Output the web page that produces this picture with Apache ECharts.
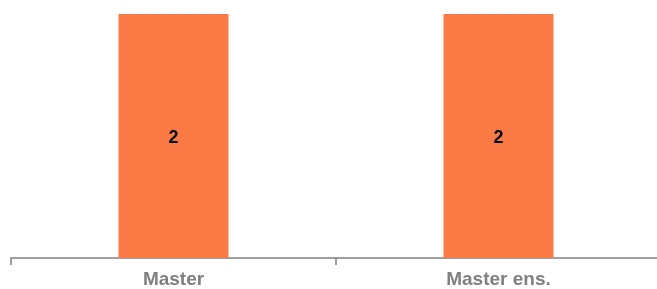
<!DOCTYPE html>
<html><head><meta charset="utf-8">
<style>html,body{margin:0;padding:0;background:#fff}#c{width:657px;height:289px}</style>
<script src="https://cdn.jsdelivr.net/npm/echarts@6/dist/echarts.min.js"></script>
</head><body><div id="c"></div>
<script>
const categories = ["Master", "Master ens."];
const values = [2, 2];
const chart = echarts.init(document.getElementById('c'));
chart.setOption({
  animation: false,
  grid: {left: 11, top: 14, width: 650, bottom: 31, containLabel: false, outerBoundsMode: 'none'},
  xAxis: {
    type: 'category', data: categories,
    axisLine: {lineStyle: {color: '#808080', width: 1.5}},
    axisTick: {show: true, length: 7, lineStyle: {color: '#808080', width: 1.5}},
    axisLabel: {color: '#7f7f7f', fontFamily: 'Liberation Sans', fontWeight: 'bold', fontSize: 19, margin: 12}
  },
  yAxis: {type: 'value', min: 0, max: 2, show: false, splitLine: {show: false}},
  series: [{
    type: 'bar', data: values, barWidth: 110,
    itemStyle: {color: '#FC7A46'},
    label: {show: true, position: 'inside', offset: [0, 2], color: '#000', fontFamily: 'Liberation Sans', fontWeight: 'bold', fontSize: 18}
  }]
});
</script></body></html>
